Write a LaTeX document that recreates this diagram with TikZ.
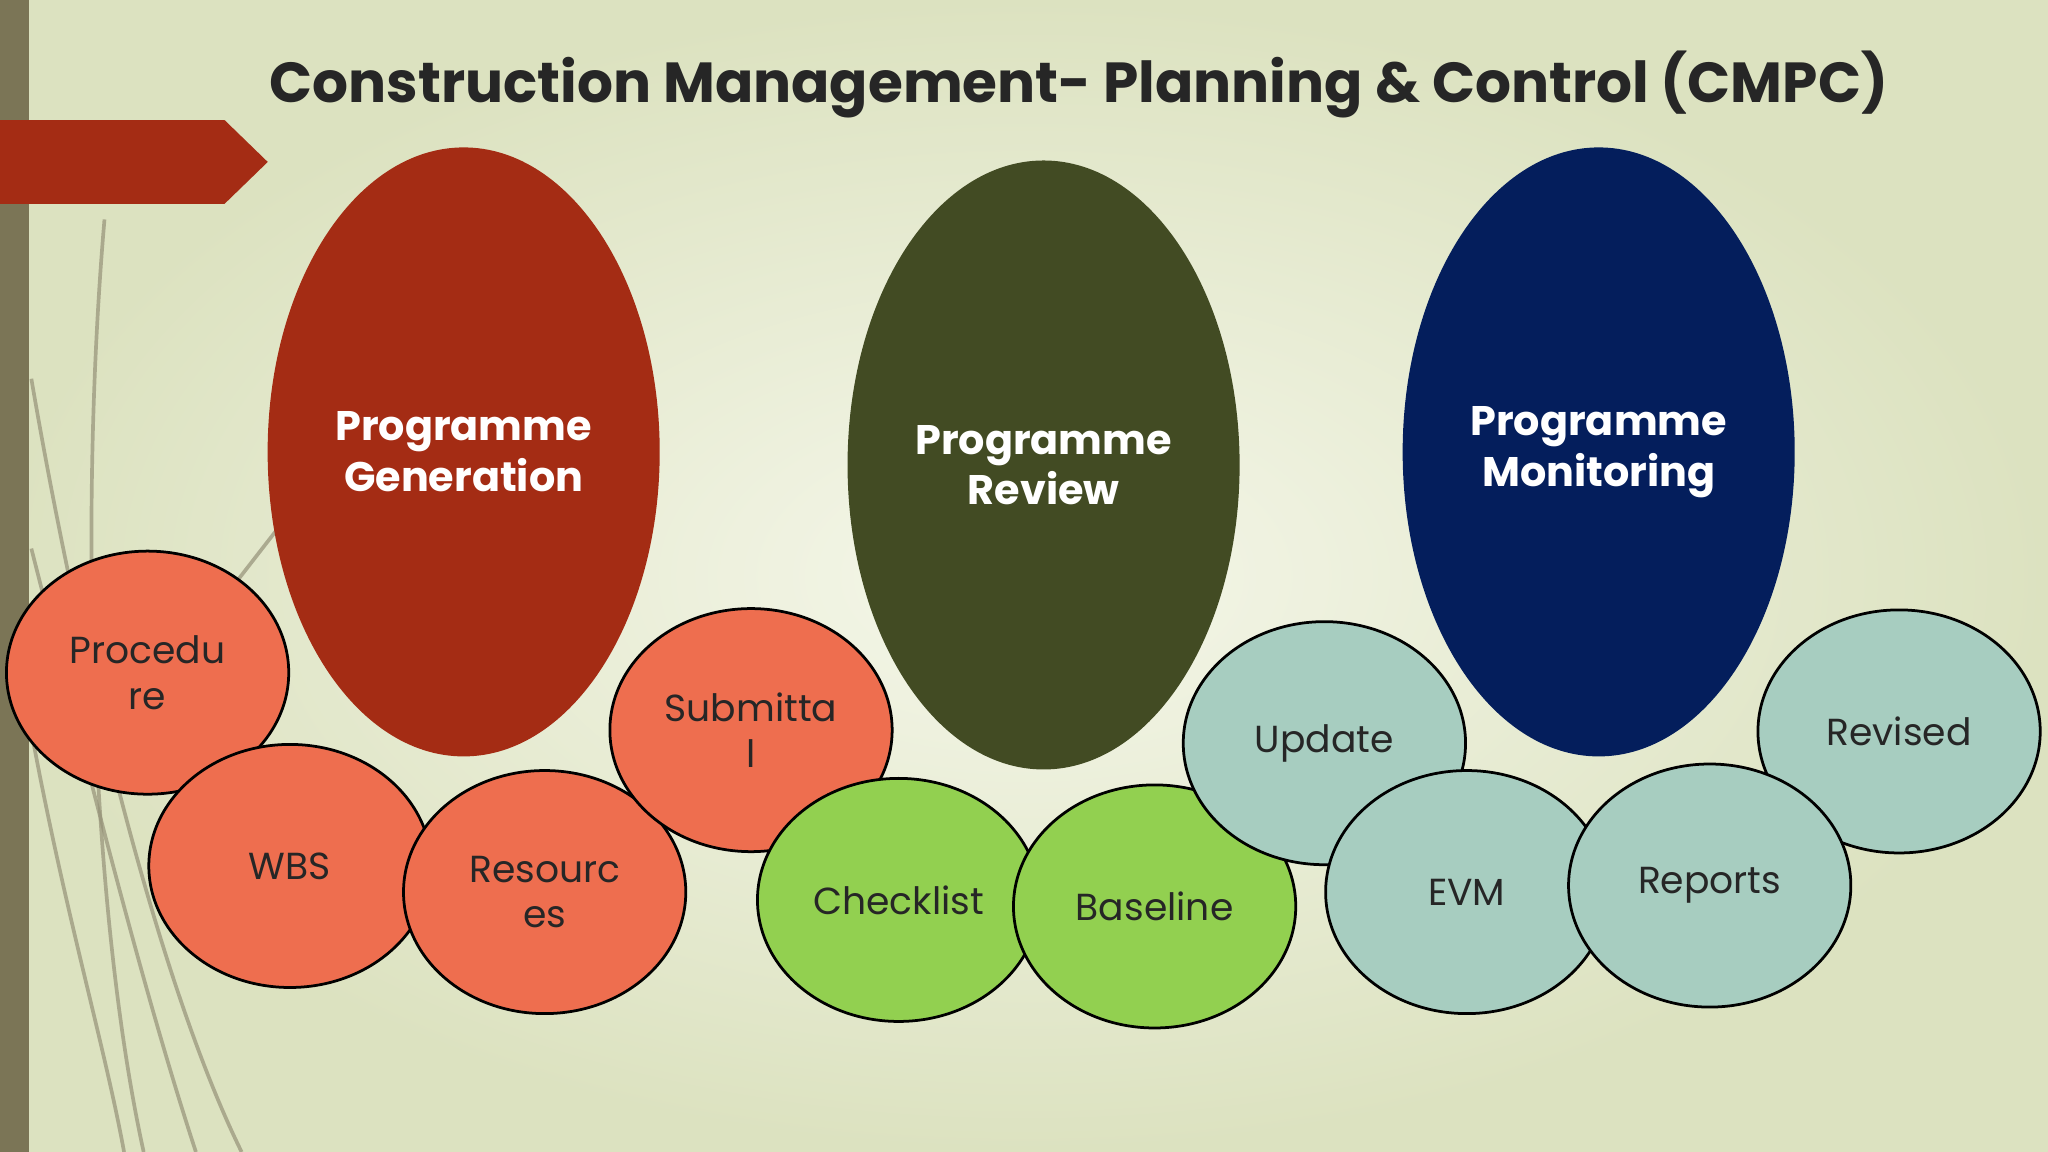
\documentclass[tikz,border=0pt]{standalone}
\usepackage{fontspec}
\setmainfont{Poppins}
\usetikzlibrary{shapes.geometric}
\definecolor{bgc}{HTML}{F5F7EA}
\definecolor{bge}{HTML}{DCE2C0}
\definecolor{redc}{HTML}{A42C14}
\definecolor{olv}{HTML}{424B23}
\definecolor{navy}{HTML}{041E5C}
\definecolor{orng}{HTML}{EE6E4F}
\definecolor{grn}{HTML}{92D050}
\definecolor{teal}{HTML}{A7CDC0}
\definecolor{bar}{HTML}{7B7556}
\definecolor{txt}{HTML}{262626}
\tikzset{
 big/.style={ellipse,minimum width=3cm,minimum height=4.66cm,inner sep=0pt,text=white,font=\fontsize{9}{11}\selectfont\bfseries,align=center},
 small/.style={ellipse,draw=black,line width=0.6pt,minimum width=2.16cm,minimum height=1.86cm,inner sep=0pt,text=txt,font=\fontsize{8.2}{10}\selectfont,align=center},
 deco/.style={draw=bar!80,line width=0.8pt,opacity=0.7}
}
\begin{document}
\begin{tikzpicture}[x=0.01cm,y=-0.01cm]
\useasboundingbox (0,0) rectangle (1568,882);
\shade[inner color=bgc,outer color=bge] (0,0) rectangle (1568,882);
\fill[bar] (0,0) rectangle (22,882);
\draw[deco] (80,168) .. controls (60,400) and (70,700) .. (110,882);
\draw[deco] (24,290) .. controls (60,500) and (120,750) .. (185,882);
\draw[deco] (24,420) .. controls (70,600) and (110,760) .. (150,882);
\draw[deco] (24,560) .. controls (50,700) and (80,800) .. (95,882);
\draw[deco] (240,370) .. controls (200,420) and (140,500) .. (90,560);
\fill[redc] (0,92) -- (172,92) -- (205,124) -- (172,156) -- (0,156) -- cycle;
\node[text=txt,font=\fontsize{12.3}{14}\selectfont\bfseries] (title) at (826,65) {Construction Management- Planning \& Control (CMPC)};
\node[big,fill=redc] (gen) at (355,346) {Programme\\Generation};
\node[big,fill=olv] (rev) at (799,356) {Programme\\Review};
\node[big,fill=navy] (mon) at (1224,346) {Programme\\Monitoring};
\node[small,fill=orng] (proc) at (113,515) {Procedu\\re};
\node[small,fill=orng] (wbs) at (222,663) {WBS};
\node[small,fill=orng] (res) at (417,683) {Resourc\\es};
\node[small,fill=orng] (sub) at (575,559) {Submitta\\l};
\node[small,fill=grn] (chk) at (688,689) {Checklist};
\node[small,fill=grn] (base) at (884,694) {Baseline};
\node[small,fill=teal] (upd) at (1014,569) {Update};
\node[small,fill=teal] (evm) at (1123,683) {EVM};
\node[small,fill=teal] (revd) at (1454,560) {Revised};
\node[small,fill=teal] (rep) at (1309,678) {Reports};
\end{tikzpicture}
\end{document}
